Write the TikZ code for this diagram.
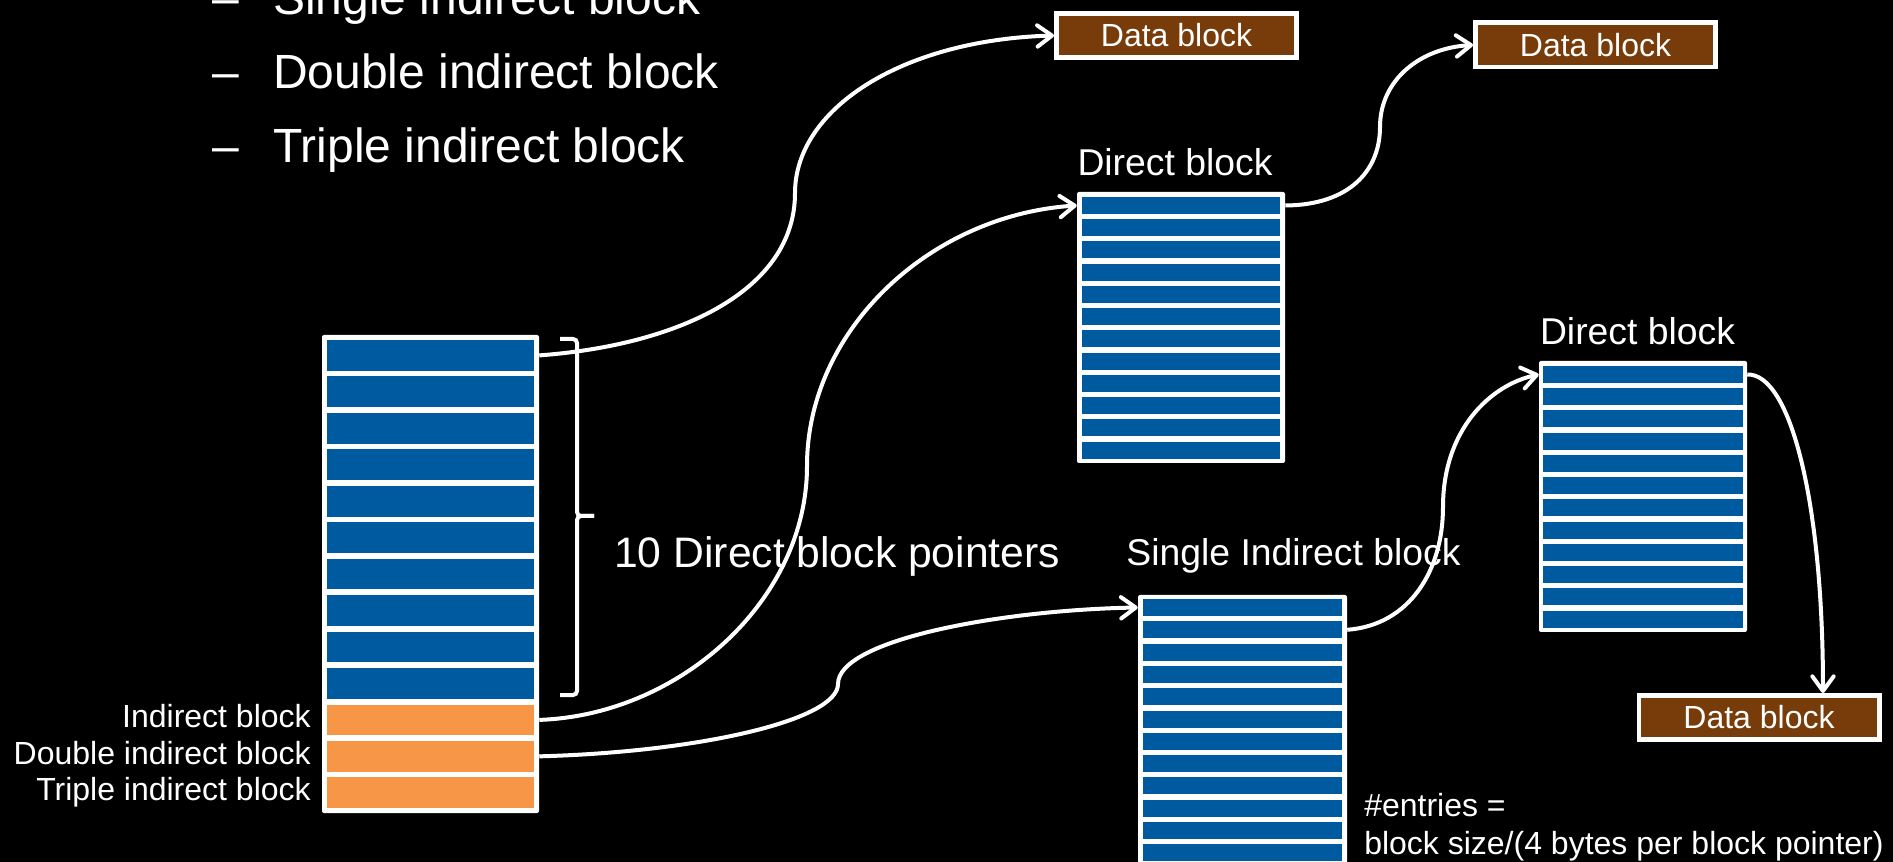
\documentclass[tikz,border=0pt]{standalone}
\usepackage{fontspec}
\setmainfont{Liberation Sans}
\usetikzlibrary{arrows.meta}

\definecolor{rowblue}{HTML}{005AA0}
\definecolor{roworange}{HTML}{F79646}
\definecolor{databrown}{HTML}{783C0A}

\tikzset{
  blkframe/.style={fill=white, inner sep=0, rounded corners=1.5pt},
  ptrrow/.style={fill=rowblue, inner sep=0, minimum width=155.25pt, minimum height=23.1pt},
  entryrow/.style={fill=rowblue, inner sep=0, minimum height=12.75pt},
  datablk/.style={draw=white, line width=3.5pt, fill=databrown, text=white, inner sep=0,
    minimum width=180.25pt, minimum height=33.25pt, font=\fontsize{24}{28}\selectfont},
  link/.style={draw=white, line width=3pt, -{Straight Barb[length=11pt,width=16pt,round]}},
  lbl/.style={text=white, inner sep=0},
}

\begin{document}
\begin{tikzpicture}[x=0.75pt, y=-0.75pt]
\useasboundingbox (0,0) rectangle (1893,862);
\fill[black] (0,0) rectangle (1893,862);
\clip (0,0) rectangle (1893,862);

% bullet list, cut at the top
\foreach \y/\t [count=\k] in {15/Single indirect block, 89/Double indirect block, 163/Triple indirect block}
  \node[lbl, anchor=base west, font=\fontsize{36}{43}\selectfont] (head\k) at (212,\y) {\makebox[45.75pt][l]{\textendash}\t};

% inode pointer table
\node[blkframe, minimum width=162.75pt, minimum height=358.5pt] (inode) at (430.5,574) {};
\foreach \i in {1,...,13} {
  \ifnum\i>10 \def\rowcol{roworange}\else\def\rowcol{rowblue}\fi
  \node[ptrrow, fill=\rowcol] (in\i) at (430.5,{355.4+(\i-1)*36.45}) {};
}
\node[lbl, anchor=base east, font=\fontsize{24}{28}\selectfont] (lab11) at (311,727) {Indirect block};
\node[lbl, anchor=base east, font=\fontsize{24}{28}\selectfont] (lab12) at (311,764) {Double indirect block};
\node[lbl, anchor=base east, font=\fontsize{24}{28}\selectfont] (lab13) at (311,800) {Triple indirect block};

% brace over the direct pointers
\draw[white, line width=3pt, rounded corners=3pt] (560,339) -- (577,339) -- (577,516) -- (594,516);
\draw[white, line width=3pt, rounded corners=3pt] (594,516) -- (577,516) -- (577,695) -- (560,695);
\node[lbl, anchor=base west, font=\fontsize{32}{38}\selectfont] (ptrlabel) at (614,568) {10 Direct block pointers};

% direct block (top)
\node[blkframe, minimum width=156pt, minimum height=203.25pt] (dir) at (1181,327.5) {};
\foreach \i in {1,...,12}
  \node[entryrow, minimum width=148.5pt] (dir\i) at (1181,{205.5+(\i-1)*22.24}) {};
\node[lbl, anchor=base, font=\fontsize{28}{34}\selectfont] (dirlabel) at (1175,176) {Direct block};

% direct block (right)
\node[blkframe, minimum width=156pt, minimum height=203.25pt] (dirb) at (1643,496.5) {};
\foreach \i in {1,...,12}
  \node[entryrow, minimum width=150pt] (dirb\i) at (1643,{374.5+(\i-1)*22.24}) {};
\node[lbl, anchor=base, font=\fontsize{28}{34}\selectfont] (dirblabel) at (1637.5,345) {Direct block};

% single indirect block
\node[blkframe, minimum width=156.75pt, minimum height=206.25pt] (sind) at (1242.5,732.5) {};
\foreach \i in {1,...,12}
  \node[entryrow, minimum width=149.25pt] (sind\i) at (1242.5,{607.5+(\i-1)*22.3}) {};
\node[lbl, anchor=base, font=\fontsize{28}{34}\selectfont] (sindlabel) at (1293.5,566) {Single Indirect block};
\node[lbl, anchor=base west, font=\fontsize{24}{28}\selectfont] (note1) at (1364,816) {\#entries =};
\node[lbl, anchor=base west, font=\fontsize{24}{28}\selectfont] (note2) at (1364,854) {block size/(4 bytes per block pointer)};

% data blocks
\node[datablk] (db1) at (1176.5,35.5) {Data block};
\node[datablk] (db2) at (1595.5,45) {Data block};
\node[datablk] (db3) at (1759,717.5) {Data block};

% pointers
\draw[link] (in1 -| inode.east) .. controls (680,345) and (795,290) .. (795,193)
  .. controls (795,110) and (900,40) .. (db1.west);
\draw[link] (in11 -| inode.east) .. controls (680,715) and (807,600) .. (807,466)
  .. controls (807,330) and (930,215) .. (dir1 -| dir.west);
\draw[link] (in12 -| inode.east) .. controls (700,752) and (838,720) .. (838,684)
  .. controls (838,640) and (1000,610) .. (sind1 -| sind.west);
\draw[link] (dir1 -| dir.east) .. controls (1350,205) and (1380,170) .. (1380,127)
  .. controls (1380,80) and (1420,48) .. (db2.west);
\draw[link] (sind2 -| sind.east) .. controls (1410,625) and (1443,570) .. (1443,507)
  .. controls (1443,430) and (1490,385) .. (dirb1 -| dirb.west);
\draw[link] (dirb1 -| dirb.east) .. controls (1790,373) and (1823,500) .. ([xshift=48pt]db3.north);
\end{tikzpicture}
\end{document}
